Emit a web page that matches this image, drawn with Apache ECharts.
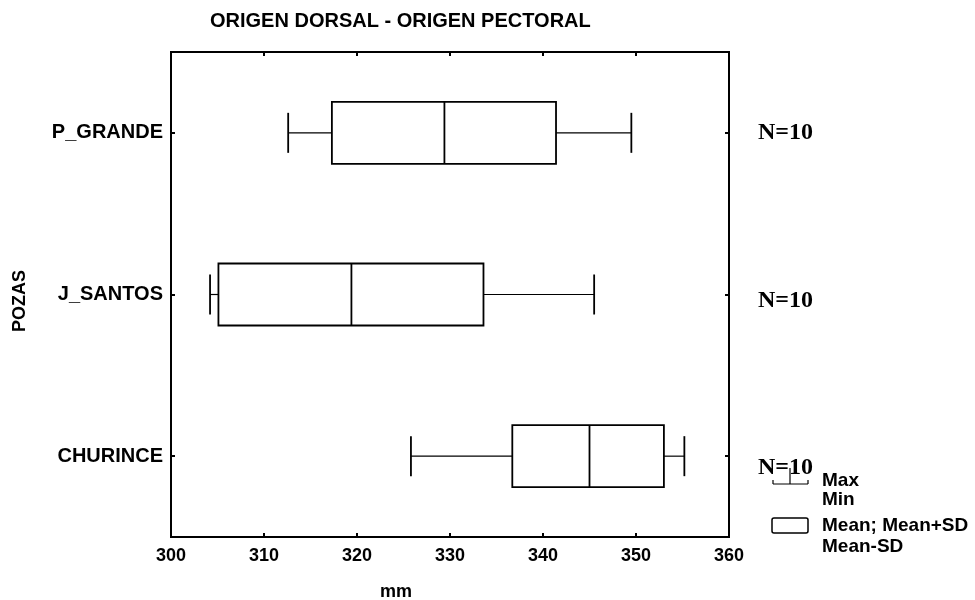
<!DOCTYPE html>
<html>
<head>
<meta charset="utf-8">
<script src="https://cdn.jsdelivr.net/npm/echarts@6/dist/echarts.min.js"></script>
<style>
  html, body { margin: 0; padding: 0; background: #fff; }
  #chart { width: 975px; height: 600px; }
</style>
</head>
<body>
<div id="chart"></div>
<script>
// groups, top to bottom
var categories = ['P_GRANDE', 'J_SANTOS', 'CHURINCE'];
// whisker ends and box edges (mm)
var minVals  = [312.6, 304.2, 325.8];
var lowVals  = [317.3, 305.1, 336.7];   // Mean-SD
var meanVals = [329.4, 319.4, 345.0];
var highVals = [341.4, 333.6, 353.0];   // Mean+SD
var maxVals  = [349.5, 345.5, 355.2];
var nCounts  = [10, 10, 10];

var seriesData = [];
for (var i = 0; i < categories.length; i++) {
    seriesData.push([i, minVals[i], lowVals[i], meanVals[i], highVals[i], maxVals[i]]);
}

var FONT = 'Liberation Sans, Arial, sans-serif';
var SERIF = 'Liberation Serif, serif';

function renderItem(params, api) {
    var c = api.value(0);
    var pMin = api.coord([api.value(1), c]);
    var pLo = api.coord([api.value(2), c]);
    var pMean = api.coord([api.value(3), c]);
    var pHi = api.coord([api.value(4), c]);
    var pMax = api.coord([api.value(5), c]);
    var y = pMean[1];
    var bh = 62, ch = 40;
    var thin = { stroke: '#000', lineWidth: 1.2 };
    var thick = { stroke: '#000', lineWidth: 1.8, fill: 'none' };
    return {
        type: 'group',
        children: [
            { type: 'line', shape: { x1: pMin[0], y1: y, x2: pLo[0], y2: y }, style: thin },
            { type: 'line', shape: { x1: pHi[0], y1: y, x2: pMax[0], y2: y }, style: thin },
            { type: 'line', shape: { x1: pMin[0], y1: y - ch / 2, x2: pMin[0], y2: y + ch / 2 }, style: thick },
            { type: 'line', shape: { x1: pMax[0], y1: y - ch / 2, x2: pMax[0], y2: y + ch / 2 }, style: thick },
            { type: 'rect', shape: { x: pLo[0], y: y - bh / 2, width: pHi[0] - pLo[0], height: bh }, style: thick },
            { type: 'line', shape: { x1: pMean[0], y1: y - bh / 2, x2: pMean[0], y2: y + bh / 2 }, style: thick }
        ]
    };
}

var chart = echarts.init(document.getElementById('chart'));

chart.setOption({
    backgroundColor: '#fff',
    animation: false,
    title: {
        text: 'ORIGEN DORSAL - ORIGEN PECTORAL',
        left: 205,
        top: 6,
        textStyle: { fontFamily: FONT, fontSize: 20, fontWeight: 'bold', color: '#000' }
    },
    grid: {
        left: 171, right: 246, top: 52, bottom: 63,
        outerBoundsMode: 'none',
        containLabel: false,
        show: true, borderColor: '#000', borderWidth: 2, backgroundColor: 'transparent'
    },
    xAxis: [{
        type: 'value',
        min: 300, max: 360, interval: 10,
        name: 'mm',
        nameLocation: 'middle',
        nameGap: 46,
        nameTextStyle: { fontFamily: FONT, fontSize: 18, fontWeight: 'bold', color: '#000', padding: [0, 108, 0, 0] },
        axisLine: { show: true, lineStyle: { color: '#000', width: 2 } },
        axisTick: { show: true, inside: true, length: 4, lineStyle: { color: '#000', width: 2 } },
        axisLabel: { fontFamily: FONT, fontSize: 18, fontWeight: 'bold', color: '#000', margin: 10 },
        splitLine: { show: false }
    }, {
        type: 'value',
        position: 'top',
        min: 300, max: 360, interval: 10,
        axisLine: { show: false },
        axisTick: { show: true, inside: true, length: 4, lineStyle: { color: '#000', width: 2 } },
        axisLabel: { show: false },
        splitLine: { show: false }
    }],
    yAxis: [{
        type: 'category',
        data: categories,
        inverse: true,
        name: 'POZAS',
        nameLocation: 'middle',
        nameRotate: 90,
        nameGap: 142,
        nameTextStyle: { fontFamily: FONT, fontSize: 18, fontWeight: 'bold', color: '#000', padding: [0, 13, 0, 0] },
        axisLine: { show: true, lineStyle: { color: '#000', width: 2 } },
        axisTick: { show: true, inside: true, length: 4, alignWithLabel: true, lineStyle: { color: '#000', width: 2 } },
        axisLabel: { fontFamily: FONT, fontSize: 20, fontWeight: 'bold', color: '#000', margin: 8 },
        splitLine: { show: false }
    }, {
        type: 'category',
        data: categories,
        inverse: true,
        position: 'right',
        axisLine: { show: false },
        axisTick: { show: true, inside: true, length: 4, alignWithLabel: true, lineStyle: { color: '#000', width: 2 } },
        axisLabel: {
            margin: 29,
            formatter: function (val, idx) { return '{n' + idx + '|N=' + nCounts[idx] + '}'; },
            rich: {
                n0: { fontFamily: SERIF, fontSize: 24, fontWeight: 'bold', color: '#000', padding: [0, 0, 0, 0] },
                n1: { fontFamily: SERIF, fontSize: 24, fontWeight: 'bold', color: '#000', padding: [12, 0, 0, 0] },
                n2: { fontFamily: SERIF, fontSize: 24, fontWeight: 'bold', color: '#000', padding: [24, 0, 0, 0] }
            }
        },
        splitLine: { show: false }
    }],
    series: [{
        type: 'custom',
        xAxisIndex: 0,
        yAxisIndex: 0,
        renderItem: renderItem,
        encode: { x: [1, 2, 3, 4, 5], y: 0 },
        data: seriesData
    }],
    graphic: [
        // legend: whisker symbol
        { type: 'line', shape: { x1: 773, y1: 484, x2: 808, y2: 484 }, style: { stroke: '#000', lineWidth: 1.2 } },
        { type: 'line', shape: { x1: 790, y1: 468, x2: 790, y2: 484 }, style: { stroke: '#000', lineWidth: 1.2 } },
        { type: 'line', shape: { x1: 773, y1: 480, x2: 773, y2: 484 }, style: { stroke: '#000', lineWidth: 1.2 } },
        { type: 'line', shape: { x1: 808, y1: 480, x2: 808, y2: 484 }, style: { stroke: '#000', lineWidth: 1.2 } },
        { type: 'text', left: 822, top: 471, style: { text: 'Max', font: 'bold 19px ' + FONT, fill: '#000' } },
        { type: 'text', left: 822, top: 490, style: { text: 'Min', font: 'bold 19px ' + FONT, fill: '#000' } },
        // legend: box symbol
        { type: 'rect', shape: { x: 772, y: 518, width: 36, height: 15, r: 2 }, style: { stroke: '#000', lineWidth: 1.5, fill: 'none' } },
        { type: 'text', left: 822, top: 516, style: { text: 'Mean; Mean+SD', font: 'bold 19px ' + FONT, fill: '#000' } },
        { type: 'text', left: 822, top: 537, style: { text: 'Mean-SD', font: 'bold 19px ' + FONT, fill: '#000' } }
    ]
});
</script>
</body>
</html>
